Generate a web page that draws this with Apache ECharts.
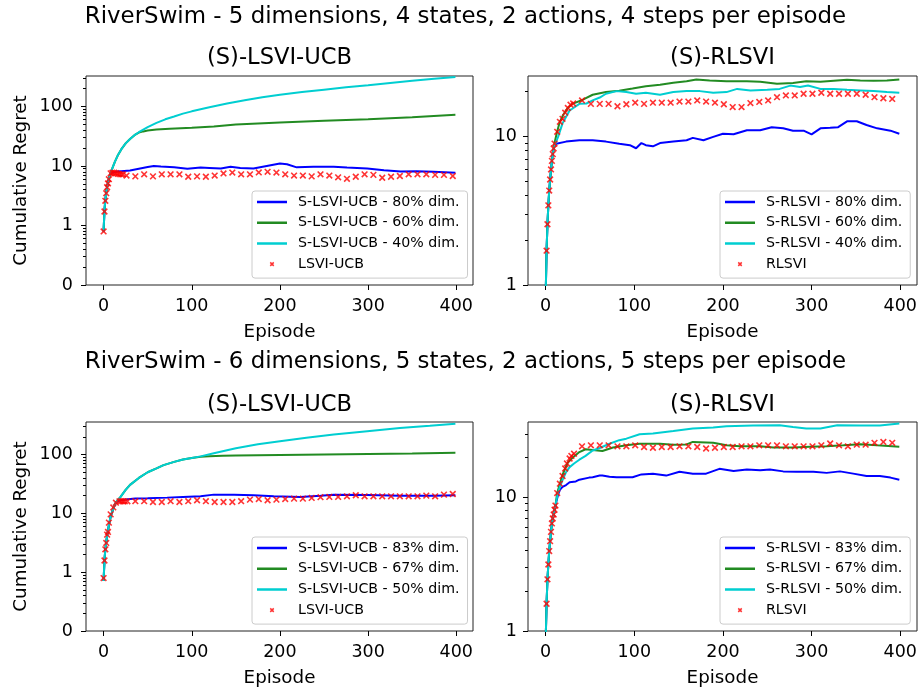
<!DOCTYPE html>
<html>
<head>
<meta charset="utf-8">
<script src="https://cdn.jsdelivr.net/npm/echarts@6.0.0/dist/echarts.min.js"></script>
<style>
html,body{margin:0;padding:0;background:#ffffff;}
#chart{width:921px;height:692px;}
</style>
</head>
<body>
<div id="chart"></div>
<script>
// ---------------- DATA ----------------
// Panel A: 5 dims, (S)-LSVI-UCB (symlog y)
const A_names = ['S-LSVI-UCB - 80% dim.', 'S-LSVI-UCB - 60% dim.', 'S-LSVI-UCB - 40% dim.'];
const A_marker_name = 'LSVI-UCB';
const A_blue_ep = [0,1,2,3,4,5,6,8,10,15,20,30,40,50,57,65,80,95,110,120,133,144,155,170,185,200,208,219,238,261,276,299,318,337,355,374,399];
const A_blue = [0.9,1.8,2.7,3.6,4.5,5.3,6.1,7.6,8.0,8.1,8.2,8.4,9.0,9.6,10.0,9.8,9.5,9.0,9.4,9.3,9.1,9.7,9.3,9.1,10.0,11.0,10.7,9.5,9.7,9.7,9.4,9.1,8.5,8.1,8.2,8.0,7.7];
const A_green_ep = [0,1,2,3,4,5,6,8,10,13,16,20,25,30,35,40,45,50,60,75,100,125,150,175,200,250,300,350,399];
const A_green = [0.9,1.8,2.7,3.6,4.5,5.3,6.1,7.6,9.2,12,15,19,24,28.5,33,36.5,38.2,39.5,41,42.5,43.9,46,50,52,54,57.5,61.3,66,72.5];
const A_cyan_ep = [0,1,2,3,4,5,6,8,10,13,16,20,25,30,35,40,50,60,70,80,90,100,120,140,160,180,200,225,250,275,300,325,350,375,399];
const A_cyan = [0.9,1.8,2.7,3.6,4.5,5.3,6.1,7.6,9.2,12,15,19,24,28.5,33,37,45,53,61,68,76,83,97,112,127,143,158,175,192,210,227,248,270,292,314];
const A_mark_ep = [0,1,2,3,4,5,6,8,10,12,14,16,18,20,22,26,36,46,56,66,76,86,96,106,116,126,136,146,156,166,176,186,196,206,216,226,236,246,256,266,276,286,296,306,316,326,336,346,356,366,376,386,396];
const A_mark = [0.9,1.72,2.6,3.5,4.4,5.1,6.0,7.55,7.7,7.7,7.6,7.4,7.3,7.25,7.25,6.9,6.7,7.25,6.7,7.25,7.25,7.25,6.6,6.7,6.6,6.9,7.5,7.75,7.25,7.25,7.8,8.0,7.75,7.25,6.9,6.9,6.7,7.25,6.9,6.45,6.1,6.6,7.25,7.1,6.35,6.6,6.8,7.25,7.25,7.25,7.1,7.1,6.8];

// Panel B: 5 dims, (S)-RLSVI (log y)
const B_names = ['S-RLSVI - 80% dim.', 'S-RLSVI - 60% dim.', 'S-RLSVI - 40% dim.'];
const B_marker_name = 'RLSVI';
const B_blue_ep = [0,1,2,3,4,5,6,7,8,9,10,12,23,38,53,68,83,95,102,108,113,121,129,144,159,166,178,189,200,212,227,242,255,268,279,291,300,310,321,330,340,351,362,374,389,399];
const B_blue = [0.85,1.7,2.56,3.43,4.3,5.1,5.95,6.8,7.55,8.2,8.6,8.9,9.2,9.4,9.4,9.2,8.9,8.7,8.3,9.0,8.7,8.55,9.0,9.2,9.4,9.75,9.4,9.9,10.4,10.3,10.97,10.97,11.5,11.3,10.9,10.9,10.3,11.3,11.4,11.5,12.6,12.6,11.9,11.3,10.9,10.4];
const B_green_ep = [0,1,2,3,4,5,6,7,8,9,10,13,16,20,25,30,42,53,68,83,98,113,129,144,159,170,185,204,227,242,261,279,294,310,325,340,355,370,385,399];
const B_green = [0.85,1.7,2.56,3.43,4.3,5.1,5.95,6.8,7.55,8.2,9.0,10.8,12.5,14.0,15.5,16.5,17.6,19.0,19.8,20.2,20.9,21.7,22.2,22.9,23.4,24.1,23.7,23.4,23.4,23.2,22.5,22.8,23.4,23.2,23.6,24.0,23.7,23.6,23.7,24.1];
const B_cyan_ep = [0,1,2,3,4,5,6,7,8,9,10,14,19,27,30,38,46,53,61,68,80,91,102,113,129,144,159,174,189,204,216,231,250,264,276,287,296,310,325,340,355,370,385,399];
const B_cyan = [0.85,1.7,2.56,3.43,4.3,5.1,5.95,6.8,7.55,8.2,8.6,9.9,12.2,14.9,15.3,16.5,16.6,17.4,18.2,19.3,20.1,19.8,19.3,19.6,19.0,19.8,20.1,20.1,19.6,19.8,20.8,20.3,20.5,20.8,21.9,21.4,21.9,20.8,20.8,20.5,20.3,20.1,19.8,19.6];
const B_mark_ep = [1,2,3,4,5,6,7,8,9,10,13,16,19,22,25,28,31,41,51,61,71,81,91,101,111,121,131,141,151,161,171,181,191,201,211,221,231,241,251,261,271,281,291,301,311,321,331,341,351,361,371,381,391];
const B_mark = [1.70,2.56,3.43,4.31,5.12,5.98,6.83,7.58,8.28,8.93,10.7,12.5,13.1,14.4,15.5,16.3,16.6,17.4,16.5,16.5,16.5,15.9,16.4,16.8,16.5,16.8,16.8,16.8,17.1,17.1,17.4,17.1,16.8,16.4,15.7,15.7,16.7,17.0,17.4,18.3,18.8,18.8,19.3,19.3,19.6,19.3,19.3,19.3,19.3,19.0,18.3,18.0,17.8];

// Panel C: 6 dims, (S)-LSVI-UCB (symlog y)
const C_names = ['S-LSVI-UCB - 83% dim.', 'S-LSVI-UCB - 67% dim.', 'S-LSVI-UCB - 50% dim.'];
const C_marker_name = 'LSVI-UCB';
const C_blue_ep = [0,1,2,3,4,5,6,8,11,14,18,25,36,50,72,90,110,125,148,170,193,223,246,261,299,336,374,399];
const C_blue = [0.85,1.6,2.45,3.2,4.2,5.0,6.3,8.8,12.2,15.3,16.5,17.2,17.8,18.0,18.5,19.0,19.5,20.8,20.8,20.3,19.5,19.0,20.0,20.8,20.5,20.0,20.0,20.3];
const C_green_ep = [0,1,2,3,4,5,6,8,11,14,19,25,30,40,50,60,68,80,90,100,110,120,135,150,200,250,300,350,399];
const C_green = [0.85,1.6,2.45,3.2,4.2,5.0,6.3,8.8,12.2,15.3,18.9,25,30.5,40,50,58,66,75,82,87,92,93.5,95,96,98,100,102,104,107];
const C_cyan_ep = [0,1,2,3,4,5,6,8,11,14,19,25,30,40,50,60,68,80,90,100,110,125,150,175,200,230,261,299,336,370,399];
const C_cyan = [0.85,1.6,2.45,3.2,4.2,5.0,6.3,8.8,12.2,15.3,18.9,25,30.5,40,50,58,66,75,82,87,93,105,128,149,168,192,218,248,282,308,334];
const C_mark_ep = [0,1,2,3,4,5,6,8,11,14,18,20,22,24,27,36,46,56,66,76,86,96,106,116,126,136,146,156,166,176,186,196,206,216,226,236,246,256,266,276,286,296,306,316,326,336,346,356,366,376,386,396];
const C_mark = [0.9,1.58,2.45,3.14,4.35,4.83,6.95,9.6,12.6,15.2,16.0,16.1,16.0,16.0,16.0,16.1,16.1,15.6,15.6,16.1,15.6,16.1,16.7,16.1,15.6,15.6,15.6,16.1,17.1,17.5,16.7,17.1,17.5,17.8,17.8,18.3,18.8,19.0,19.0,19.5,20.3,19.5,19.5,19.5,19.5,19.5,19.5,19.5,20.0,19.5,20.8,21.3];

// Panel D: 6 dims, (S)-RLSVI (log y)
const D_names = ['S-RLSVI - 83% dim.', 'S-RLSVI - 67% dim.', 'S-RLSVI - 50% dim.'];
const D_marker_name = 'RLSVI';
const D_blue_ep = [0,1,2,3,4,5,6,7,8,9,10,12,14,16,19,23,27,34,38,49,53,61,64,72,80,90,98,108,121,136,151,166,181,196,212,227,242,253,268,283,302,317,332,347,362,377,389,399];
const D_blue = [0.85,1.6,2.44,3.15,3.97,4.71,5.53,6.4,7.0,7.5,8.0,9.3,10.5,11.4,12.0,12.4,13.0,13.2,13.6,14.1,14.2,14.6,14.6,14.3,14.2,14.2,14.2,14.9,15.1,14.6,15.6,15.1,15.1,16.4,15.8,16.2,16.0,16.2,15.7,15.6,15.6,15.3,15.7,15.1,14.5,14.5,14.1,13.6];
const D_green_ep = [0,1,2,3,4,5,6,7,8,9,10,11,13,16,19,22,25,30,38,45,53,64,76,91,106,129,144,159,166,189,204,219,242,257,279,298,317,336,355,374,399];
const D_green = [0.85,1.6,2.44,3.15,3.97,4.71,5.53,6.4,7.0,7.5,8.1,8.7,10.8,12.7,14.8,16.5,18.3,19.8,21.9,23.0,22.7,22.3,23.7,24.6,25.3,25.3,24.9,25.0,26.1,25.7,24.6,24.2,24.2,23.7,23.7,24.0,24.2,24.6,25.1,24.6,24.0];
const D_cyan_ep = [0,1,2,3,4,5,6,7,8,9,10,13,16,19,23,27,32,38,45,53,61,72,83,91,106,121,144,166,189,204,234,264,279,294,310,329,355,377,399];
const D_cyan = [0.85,1.6,2.44,3.15,3.97,4.71,5.53,6.4,7.0,7.5,8.1,10.2,12.0,13.5,15.5,16.9,18.0,19.2,20.5,22.5,23.5,25.3,26.9,27.6,29.8,30.2,31.5,32.9,33.4,34.2,34.6,34.8,33.7,32.9,32.9,34.8,34.6,34.6,35.8];
const D_mark_ep = [1,2,3,4,5,6,7,8,9,10,11,13,16,19,22,24,27,29,32,41,51,61,71,81,91,101,111,121,131,141,151,161,171,181,191,201,211,221,231,241,251,261,271,281,291,301,311,321,331,341,351,361,371,381,391];
const D_mark = [1.60,2.44,3.15,3.97,4.71,5.53,6.4,6.97,7.45,8.1,8.7,10.8,12.7,14.5,16.5,18.0,19.6,20.5,21.3,24.2,24.6,24.6,24.6,24.2,24.2,24.6,23.9,23.6,23.9,23.9,24.2,24.2,23.9,23.3,23.6,23.9,23.9,24.2,24.2,24.6,24.6,24.6,24.2,24.2,24.2,24.2,24.6,25.4,24.6,24.2,24.9,24.9,25.7,26.1,25.7];

// Tick labels
const X_TICKS = [0, 100, 200, 300, 400];
const SYMLOG_TICK_LABELS = ['0', '1', '10', '100'];
const LOG_TICKS = [1, 10];
const TITLES_TOP = 'RiverSwim - 5 dimensions, 4 states, 2 actions, 4 steps per episode';
const TITLES_BOTTOM = 'RiverSwim - 6 dimensions, 5 states, 2 actions, 5 steps per episode';
const SUB_TITLES = ['(S)-LSVI-UCB', '(S)-RLSVI'];

// ---------------- CHART ----------------
const FONT = '"DejaVu Sans", sans-serif';
const LINE_COLORS = ['#0000ff', '#228b22', '#00ced1'];
const MARK_COLOR = '#ff0000';
const XPATH = 'path://M0 0L0.01 0L0 0.01Z M24 24L23.99 24L24 23.99Z M8.8 7.2L16.8 15.2L15.2 16.8L7.2 8.8Z M7.2 15.2L15.2 7.2L16.8 8.8L8.8 16.8Z';
const XLEG = 'path://M0 0L0.01 0L0 0.01Z M32 32L31.99 32L32 31.99Z M13.2 10.8L21.2 18.8L18.8 21.2L10.8 13.2Z M10.8 18.8L18.8 10.8L21.2 13.2L13.2 21.2Z';
const LINELEG = 'path://M0 0L0.01 0L0 0.01Z M30 14L29.99 14L30 13.99Z M0 5.75L30 5.75L30 8.25L0 8.25Z';

function sym(v) { return v < 1 ? v : 1 + Math.log10(v); }
function ident(v) { return v; }

const GRIDS = [
  [86, 76, 387, 209],
  [528, 76, 389, 209],
  [86, 422, 387, 209],
  [528, 422, 389, 209]
];

const PANELS = [
  { names: A_names, mname: A_marker_name, eps: [A_blue_ep, A_green_ep, A_cyan_ep], vals: [A_blue, A_green, A_cyan], mep: A_mark_ep, mval: A_mark, tf: sym, kind: 'symlog', ymax: 326 },
  { names: B_names, mname: B_marker_name, eps: [B_blue_ep, B_green_ep, B_cyan_ep], vals: [B_blue, B_green, B_cyan], mep: B_mark_ep, mval: B_mark, tf: ident, kind: 'log', ymax: 25.4 },
  { names: C_names, mname: C_marker_name, eps: [C_blue_ep, C_green_ep, C_cyan_ep], vals: [C_blue, C_green, C_cyan], mep: C_mark_ep, mval: C_mark, tf: sym, kind: 'symlog', ymax: 357 },
  { names: D_names, mname: D_marker_name, eps: [D_blue_ep, D_green_ep, D_cyan_ep], vals: [D_blue, D_green, D_cyan], mep: D_mark_ep, mval: D_mark, tf: ident, kind: 'log', ymax: 36.8 }
];

const series = [];
const xAxes = [];
const yAxes = [];
const minorAxes = [];
const legends = [];
const grids = [];

PANELS.forEach((p, i) => {
  const g = GRIDS[i];
  grids.push({ left: g[0], top: g[1], width: g[2], height: g[3], show: true, borderColor: '#222222', borderWidth: 1, backgroundColor: 'transparent', containLabel: false, outerBoundsMode: 'none' });
  xAxes.push({
    type: 'value', gridIndex: i, min: -19.95, max: 418.95, position: 'bottom',
    axisLine: { show: false, onZero: false }, splitLine: { show: false },
    axisTick: { show: true, length: 5, lineStyle: { color: '#000', width: 1 }, customValues: X_TICKS },
    axisLabel: { customValues: X_TICKS, fontSize: 17.5, color: '#000', margin: 12, fontFamily: FONT },
    name: 'Episode', nameLocation: 'middle', nameGap: 38, nameMoveOverlap: false,
    nameTextStyle: { fontSize: 18.3, color: '#000', fontFamily: FONT }
  });
  let minorVals;
  let yMin, yMax, yType;
  if (p.kind === 'symlog') {
    yType = 'value'; yMin = 0; yMax = sym(p.ymax);
    yAxes.push({
      type: 'value', gridIndex: i, min: yMin, max: yMax, position: 'left',
      axisLine: { show: false, onZero: false }, splitLine: { show: false },
      axisTick: { show: true, length: 5, lineStyle: { color: '#000', width: 1 }, customValues: [0, 1, 2, 3] },
      axisLabel: { customValues: [0, 1, 2, 3], fontSize: 17.5, color: '#000', margin: 13, fontFamily: FONT,
        formatter: v => SYMLOG_TICK_LABELS[Math.round(v)] },
      name: 'Cumulative Regret', nameLocation: 'middle', nameGap: 56, nameMoveOverlap: false,
      nameTextStyle: { fontSize: 18.3, color: '#000', fontFamily: FONT }
    });
    minorVals = [];
    for (let d = 0; d < 4; d++) for (let k = 2; k <= 9; k++) { const t = d + Math.log10(k); if (t < yMax) minorVals.push(t); }
  } else {
    yType = 'log'; yMin = 1; yMax = p.ymax;
    yAxes.push({
      type: 'log', logBase: 10, gridIndex: i, min: yMin, max: yMax, position: 'left',
      axisLine: { show: false, onZero: false }, splitLine: { show: false },
      axisTick: { show: true, length: 5, lineStyle: { color: '#000', width: 1 }, customValues: LOG_TICKS },
      axisLabel: { customValues: LOG_TICKS, fontSize: 17.5, color: '#000', margin: 11, fontFamily: FONT }
    });
    minorVals = [];
    for (let d = 0; d < 2; d++) for (let k = 2; k <= 9; k++) { const t = k * Math.pow(10, d); if (t < p.ymax) minorVals.push(t); }
  }
  // overlay axis that only carries the minor ticks
  const minorAxis = {
    type: yType, gridIndex: i, min: yMin, max: yMax, position: 'left', offset: 0,
    axisLine: { show: false, onZero: false }, splitLine: { show: false }, splitArea: { show: false },
    axisTick: { show: true, length: 3, lineStyle: { color: '#000', width: 1 }, customValues: minorVals },
    axisLabel: { show: false, customValues: minorVals }
  };
  if (yType === 'log') minorAxis.logBase = 10;
  minorAxes.push(minorAxis);

  for (let k = 0; k < 3; k++) {
    series.push({
      type: 'line', name: p.names[k], xAxisIndex: i, yAxisIndex: i,
      data: p.eps[k].map((e, j) => [e, p.tf(p.vals[k][j])]),
      symbol: 'none', showSymbol: false, clip: true, silent: true,
      lineStyle: { color: LINE_COLORS[k], width: 2 }, itemStyle: { color: LINE_COLORS[k] }, z: 2
    });
  }
  series.push({
    type: 'scatter', name: p.mname, xAxisIndex: i, yAxisIndex: i,
    data: p.mep.map((e, j) => [e, p.tf(p.mval[j])]),
    symbol: XPATH, symbolSize: 17, clip: true, silent: true,
    itemStyle: { color: MARK_COLOR }, z: 3
  });
  legends.push({
    orient: 'vertical', left: (i % 2 === 0) ? 252 : 720, top: (i < 2) ? 191 : 537,
    itemWidth: 30, itemHeight: 14, itemGap: 6.7, padding: [4, 8, 7, 5],
    backgroundColor: 'rgba(255,255,255,0.8)', borderColor: '#cccccc', borderWidth: 1, borderRadius: 3,
    selectedMode: false, symbolKeepAspect: true,
    textStyle: { fontSize: 14.2, color: '#000', fontFamily: FONT, padding: [0, 0, 0, 6] },
    data: [
      { name: p.names[0], icon: LINELEG },
      { name: p.names[1], icon: LINELEG },
      { name: p.names[2], icon: LINELEG },
      { name: p.mname, icon: XLEG }
    ]
  });
});

function txt(s, x, y, size) {
  return { type: 'text', x: x, y: y, silent: true,
    style: { text: s, fontSize: size, fontFamily: FONT, fill: '#000', align: 'center', verticalAlign: 'middle', textAlign: 'center', textVerticalAlign: 'middle' } };
}

const option = {
  animation: false,
  backgroundColor: '#ffffff',
  textStyle: { fontFamily: FONT },
  grid: grids,
  xAxis: xAxes,
  yAxis: yAxes.concat(minorAxes),
  legend: legends,
  series: series,
  graphic: [
    txt(TITLES_TOP, 465.5, 17, 22.9),
    txt(SUB_TITLES[0], 279.5, 58, 22.6),
    txt(SUB_TITLES[1], 722.5, 58, 22.6),
    txt(TITLES_BOTTOM, 465.5, 362, 22.9),
    txt(SUB_TITLES[0], 279.5, 405, 22.6),
    txt(SUB_TITLES[1], 722.5, 405, 22.6)
  ]
};

const chart = echarts.init(document.getElementById('chart'), null, { renderer: 'canvas' });
chart.setOption(option);
</script>
</body>
</html>
